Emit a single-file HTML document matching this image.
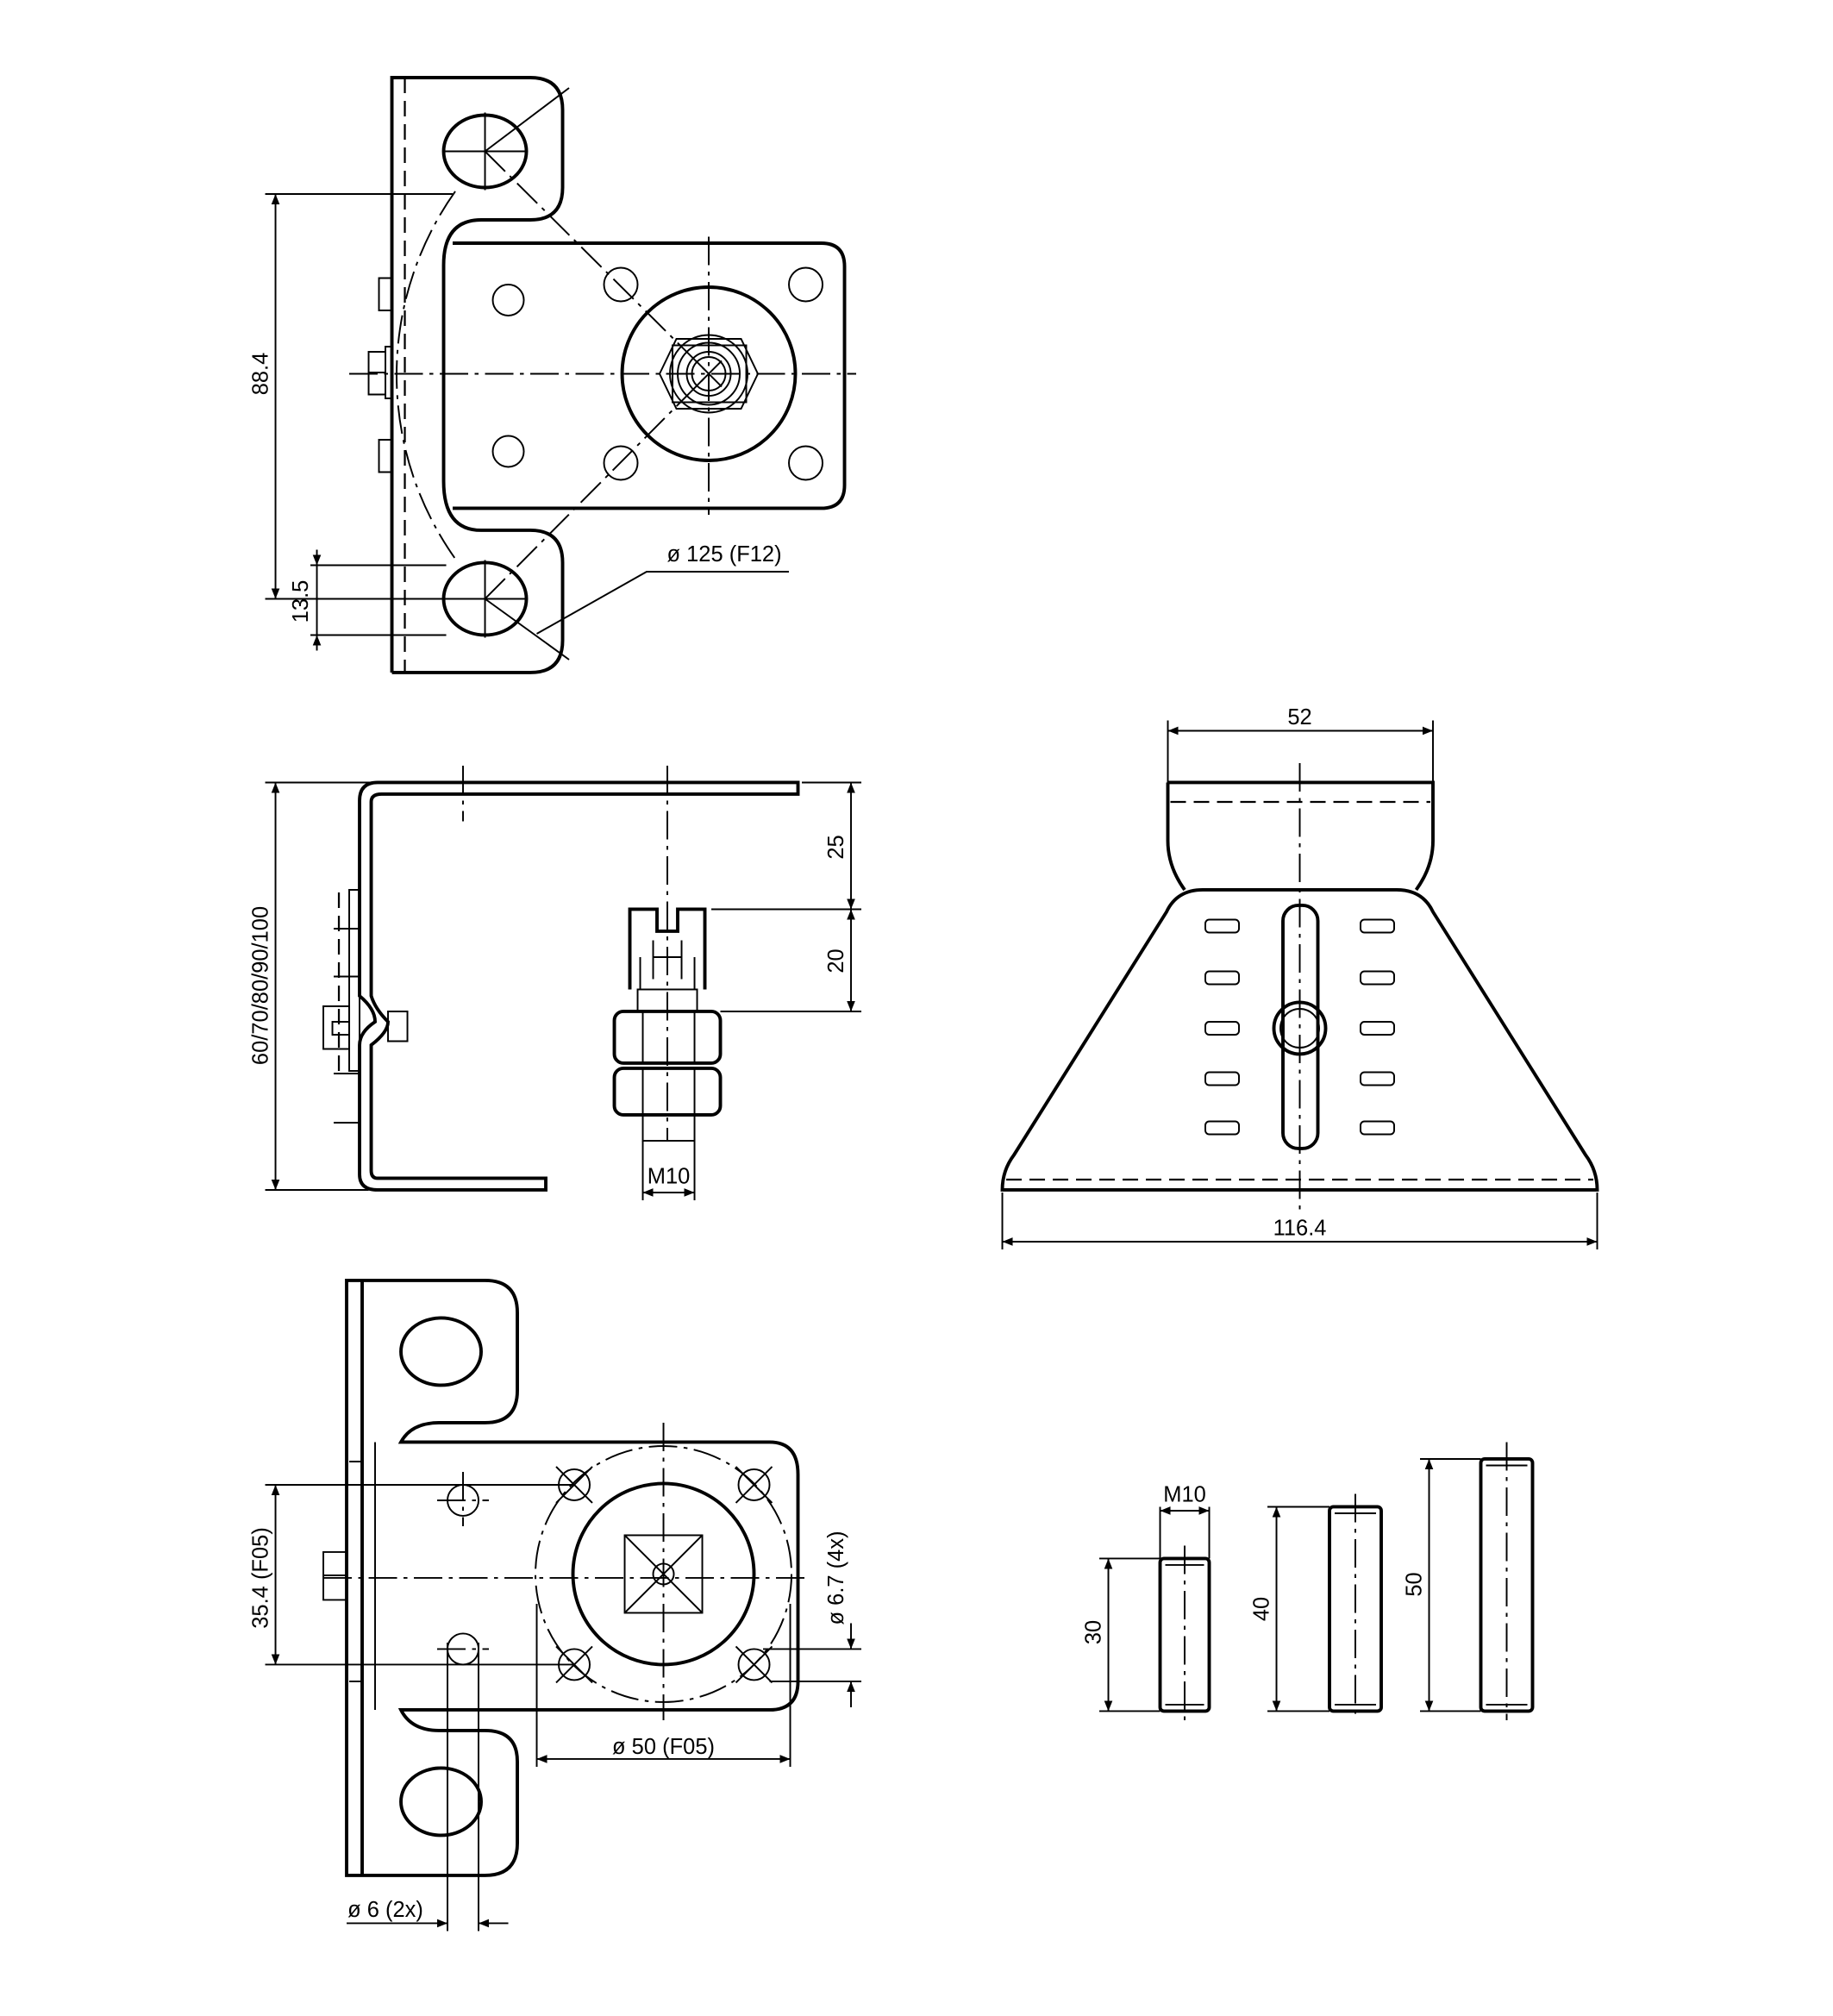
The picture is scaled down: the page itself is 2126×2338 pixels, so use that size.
<!DOCTYPE html>
<html><head><meta charset="utf-8"><style>
html,body{margin:0;padding:0;background:#fff}
svg{display:block}
text{font-family:"Liberation Sans",Arial,sans-serif;font-size:17px;fill:#000}
.o{fill:none;stroke:#000;stroke-width:2.6}
.t{fill:none;stroke:#000;stroke-width:1.3}
.dd{fill:none;stroke:#000;stroke-width:1.3;stroke-dasharray:22 5 3 5}
.da{fill:none;stroke:#000;stroke-width:1.5;stroke-dasharray:12 6}
</style></head><body>
<svg width="2126" height="2338" viewBox="0 0 1417.3 1558.7" xmlns="http://www.w3.org/2000/svg">
<defs>
<marker id="a" viewBox="0 0 10 10" refX="10" refY="5" markerWidth="12" markerHeight="8" orient="auto-start-reverse" markerUnits="userSpaceOnUse"><path d="M0,1 L10,5 L0,9 Z" fill="#000"/></marker>
</defs>

<!-- ========== TOP VIEW ========== -->
<path class="o" d="M303,520 V60 H410 Q435,60 435,85 V145 Q435,170 410,170 H372 Q343,170 343,205 V372 Q343,410 372,410 H410 Q435,410 435,435 V495 Q435,520 410,520 H303"/>
<path class="o" d="M350,188 H635 Q653,188 653,206 V375 Q653,393 635,393 H350"/>
<line class="da" x1="313" y1="60" x2="313" y2="520"/>
<path class="t" d="M293,215 h10 v25 h-10 z M293,340 h10 v25 h-10 z M285,272 h13 v33 h-13 z M298,268 h5 v40 h-5 z M285,288 h13"/>
<ellipse class="o" cx="375" cy="117" rx="32" ry="28"/>
<ellipse class="o" cx="375" cy="463" rx="32" ry="28"/>
<g class="t">
<circle cx="393" cy="232" r="12"/><circle cx="480" cy="220" r="13"/><circle cx="623" cy="220" r="13"/>
<circle cx="393" cy="349" r="12"/><circle cx="480" cy="358" r="13"/><circle cx="623" cy="358" r="13"/>
</g>
<circle class="o" cx="548" cy="289" r="67"/>
<polygon class="t" points="510,289 523,262 573,262 586,289 573,316 523,316"/>
<rect class="t" x="520" y="267" width="57" height="44"/>
<circle class="t" cx="548" cy="289" r="30"/><circle class="t" cx="548" cy="289" r="24"/><circle class="t" cx="548" cy="289" r="17"/><circle class="t" cx="548" cy="289" r="13"/>
<path class="t" d="M538,279 L558,299 M558,279 L538,299"/>
<line class="dd" x1="270" y1="289" x2="662" y2="289"/>
<line class="dd" x1="548" y1="183" x2="548" y2="398"/>
<line class="dd" x1="375" y1="117" x2="548" y2="289"/>
<line class="dd" x1="375" y1="463" x2="548" y2="289"/>
<line class="t" x1="375" y1="117" x2="440" y2="68"/>
<line class="t" x1="375" y1="463" x2="440" y2="510"/>
<path class="t" d="M343,117 h64 M375,87 v60 M343,463 h64 M375,433 v60"/>
<path class="dd" d="M352,148 A245,245 0 0 0 352,432"/>
<!-- dims -->
<path class="t" d="M205,150 H350 M205,463 H345"/>
<line class="t" x1="213" y1="150" x2="213" y2="463" marker-start="url(#a)" marker-end="url(#a)"/>
<text transform="translate(207,289) rotate(-90)" text-anchor="middle">88.4</text>
<path class="t" d="M240,437 H345 M240,491 H345"/>
<line class="t" x1="245" y1="425" x2="245" y2="437" marker-end="url(#a)"/>
<line class="t" x1="245" y1="503" x2="245" y2="491" marker-end="url(#a)"/>
<line class="t" x1="245" y1="437" x2="245" y2="491"/>
<text transform="translate(238,465) rotate(-90)" text-anchor="middle">13.5</text>
<path class="t" d="M415,490 L500,442 H610"/>
<text x="560" y="434" text-anchor="middle">ø 125 (F12)</text>

<!-- ========== SIDE VIEW ========== -->
<path class="o" d="M617,605 H292 Q278,605 278,619 V770 Q290,780 290,790 Q278,798 278,808 V908 Q278,920 292,920 H422 V911 H292 Q287,911 287,905 V808 Q300,798 300,790 Q290,780 287,770 V620 Q287,614 295,614 H617 Z"/>
<rect class="t" x="270" y="688" width="8" height="140"/>
<path class="t" d="M250,778 h20 v33 h-20 z M257,790 h13 v10 h-13 z M300,782 h15 v23 h-15 z"/>
<path class="da" d="M262,690 V830"/>
<path class="t" d="M258,718 h20 M258,755 h20 M258,830 h20 M258,868 h20"/>
<line class="dd" x1="358" y1="592" x2="358" y2="635"/>
<line class="dd" x1="516" y1="592" x2="516" y2="882"/>
<path class="o" d="M487,765 V703 H508 V720 H524 V703 H545 V765"/>
<path class="t" d="M495,765 V740 M537,765 V740 M505,740 H527 M505,727 v30 M527,727 v30"/>
<rect class="t" x="493" y="765" width="46" height="17"/>
<rect class="o" x="475" y="782" width="82" height="40" rx="7"/>
<path class="t" d="M497,782 v40 M537,782 v40"/>
<rect class="o" x="475" y="826" width="82" height="36" rx="7"/>
<path class="t" d="M497,826 v36 M537,826 v36"/>
<rect class="t" x="497" y="862" width="40" height="20"/>
<path class="t" d="M497,882 V928 M537,882 V928"/>
<line class="t" x1="497" y1="922" x2="537" y2="922" marker-start="url(#a)" marker-end="url(#a)"/>
<text x="517" y="915" text-anchor="middle">M10</text>
<path class="t" d="M620,605 H666 M550,703 H666 M557,782 H666"/>
<line class="t" x1="658" y1="605" x2="658" y2="703" marker-start="url(#a)" marker-end="url(#a)"/>
<line class="t" x1="658" y1="703" x2="658" y2="782" marker-start="url(#a)" marker-end="url(#a)"/>
<text transform="translate(652,655) rotate(-90)" text-anchor="middle">25</text>
<text transform="translate(652,743) rotate(-90)" text-anchor="middle">20</text>
<path class="t" d="M205,605 H292 M205,920 H285"/>
<line class="t" x1="213" y1="605" x2="213" y2="920" marker-start="url(#a)" marker-end="url(#a)"/>
<text transform="translate(207,762) rotate(-90)" text-anchor="middle">60/70/80/90/100</text>

<!-- ========== RIGHT VIEW ========== -->
<path class="o" d="M903,605 H1108 V650 Q1108,670 1095,688 M903,605 V650 Q903,670 916,688"/>
<path class="o" d="M930,688 H1080 Q1100,688 1108,705 L1226,893 Q1235,905 1235,920 H775 Q775,905 784,893 L902,705 Q910,688 930,688 Z"/>
<line class="da" x1="905" y1="620" x2="1106" y2="620"/>
<line class="da" x1="778" y1="912" x2="1232" y2="912"/>
<line class="dd" x1="1005" y1="590" x2="1005" y2="935"/>
<rect class="o" x="992" y="700" width="27" height="188" rx="12"/>
<circle class="o" cx="1005" cy="795" r="20"/><circle class="t" cx="1005" cy="795" r="15"/>
<g class="t">
<rect x="932" y="711" width="26" height="10" rx="3"/><rect x="1052" y="711" width="26" height="10" rx="3"/>
<rect x="932" y="751" width="26" height="10" rx="3"/><rect x="1052" y="751" width="26" height="10" rx="3"/>
<rect x="932" y="790" width="26" height="10" rx="3"/><rect x="1052" y="790" width="26" height="10" rx="3"/>
<rect x="932" y="829" width="26" height="10" rx="3"/><rect x="1052" y="829" width="26" height="10" rx="3"/>
<rect x="932" y="867" width="26" height="10" rx="3"/><rect x="1052" y="867" width="26" height="10" rx="3"/>
</g>
<path class="t" d="M903,557 V605 M1108,557 V605"/>
<line class="t" x1="903" y1="565" x2="1108" y2="565" marker-start="url(#a)" marker-end="url(#a)"/>
<text x="1005" y="560" text-anchor="middle">52</text>
<path class="t" d="M775,922 V966 M1235,922 V966"/>
<line class="t" x1="775" y1="960" x2="1235" y2="960" marker-start="url(#a)" marker-end="url(#a)"/>
<text x="1005" y="955" text-anchor="middle">116.4</text>

<!-- ========== BOTTOM VIEW ========== -->
<path class="o" d="M268,990 H375 Q400,990 400,1015 V1075 Q400,1100 375,1100 H340 Q318,1100 310,1115 H595 Q617,1115 617,1140 V1300 Q617,1322 595,1322 H310 Q318,1338 340,1338 H375 Q400,1338 400,1362 V1425 Q400,1450 375,1450 H268 Z"/>
<line class="o" x1="280" y1="990" x2="280" y2="1450"/>
<line class="t" x1="290" y1="1115" x2="290" y2="1322"/>
<path class="t" d="M270,1130 h10 M270,1300 h10"/>
<ellipse class="o" cx="341" cy="1045" rx="31" ry="26"/>
<ellipse class="o" cx="341" cy="1393" rx="31" ry="26"/>
<path class="t" d="M250,1200 h18 v37 h-18 z M250,1218 h18"/>
<circle class="o" cx="513" cy="1217" r="70"/>
<circle class="dd" cx="513" cy="1217" r="99"/>
<rect class="t" x="483" y="1187" width="60" height="60"/>
<path class="t" d="M483,1187 L543,1247 M543,1187 L483,1247"/>
<circle class="t" cx="513" cy="1217" r="8"/>
<g class="t">
<circle cx="444" cy="1148" r="12"/><circle cx="583" cy="1148" r="12"/><circle cx="444" cy="1287" r="12"/><circle cx="583" cy="1287" r="12"/>
<circle cx="358" cy="1160" r="12"/><circle cx="358" cy="1275" r="12"/>
</g>
<path class="t" d="M430,1134 L458,1162 M458,1134 L430,1162 M569,1134 L597,1162 M597,1134 L569,1162 M430,1273 L458,1301 M458,1273 L430,1301 M569,1273 L597,1301 M597,1273 L569,1301"/>
<line class="dd" x1="250" y1="1220" x2="625" y2="1220"/>
<line class="dd" x1="513" y1="1100" x2="513" y2="1330"/>
<line class="dd" x1="358" y1="1138" x2="358" y2="1180"/>
<line class="dd" x1="338" y1="1160" x2="378" y2="1160"/>
<line class="dd" x1="338" y1="1275" x2="378" y2="1275"/>
<path class="t" d="M205,1148 H444 M205,1287 H444"/>
<line class="t" x1="213" y1="1148" x2="213" y2="1287" marker-start="url(#a)" marker-end="url(#a)"/>
<text transform="translate(207,1220) rotate(-90)" text-anchor="middle">35.4 (F05)</text>
<path class="t" d="M415,1240 V1366 M611,1240 V1366"/>
<line class="t" x1="415" y1="1360" x2="611" y2="1360" marker-start="url(#a)" marker-end="url(#a)"/>
<text x="513" y="1356" text-anchor="middle">ø 50 (F05)</text>
<path class="t" d="M590,1275 H666 M595,1300 H666"/>
<line class="t" x1="658" y1="1255" x2="658" y2="1275" marker-end="url(#a)"/>
<line class="t" x1="658" y1="1320" x2="658" y2="1300" marker-end="url(#a)"/>
<text transform="translate(652,1220) rotate(-90)" text-anchor="middle">ø 6.7 (4x)</text>
<path class="t" d="M346,1270 V1493 M370,1270 V1493"/>
<line class="t" x1="268" y1="1487" x2="346" y2="1487" marker-end="url(#a)"/>
<line class="t" x1="393" y1="1487" x2="370" y2="1487" marker-end="url(#a)"/>
<text x="298" y="1482" text-anchor="middle">ø 6 (2x)</text>

<!-- ========== STUDS ========== -->
<rect class="o" x="897" y="1205" width="38" height="118" rx="3"/>
<path class="t" d="M901,1210 h30 M901,1318 h30"/>
<line class="dd" x1="916" y1="1195" x2="916" y2="1330"/>
<path class="t" d="M897,1165 V1205 M935,1165 V1205"/>
<line class="t" x1="897" y1="1168" x2="935" y2="1168" marker-start="url(#a)" marker-end="url(#a)"/>
<text x="916" y="1161" text-anchor="middle">M10</text>
<path class="t" d="M850,1205 H897 M850,1323 H897"/>
<line class="t" x1="857" y1="1205" x2="857" y2="1323" marker-start="url(#a)" marker-end="url(#a)"/>
<text transform="translate(851,1262) rotate(-90)" text-anchor="middle">30</text>

<rect class="o" x="1028" y="1165" width="40" height="158" rx="3"/>
<path class="t" d="M1032,1170 h32 M1032,1318 h32"/>
<line class="dd" x1="1048" y1="1155" x2="1048" y2="1330"/>
<path class="t" d="M980,1165 H1028 M980,1323 H1028"/>
<line class="t" x1="987" y1="1165" x2="987" y2="1323" marker-start="url(#a)" marker-end="url(#a)"/>
<text transform="translate(981,1244) rotate(-90)" text-anchor="middle">40</text>

<rect class="o" x="1145" y="1128" width="40" height="195" rx="3"/>
<path class="t" d="M1149,1133 h32 M1149,1318 h32"/>
<line class="dd" x1="1165" y1="1115" x2="1165" y2="1330"/>
<path class="t" d="M1098,1128 H1145 M1098,1323 H1145"/>
<line class="t" x1="1105" y1="1128" x2="1105" y2="1323" marker-start="url(#a)" marker-end="url(#a)"/>
<text transform="translate(1099,1225) rotate(-90)" text-anchor="middle">50</text>
</svg>
</body></html>
